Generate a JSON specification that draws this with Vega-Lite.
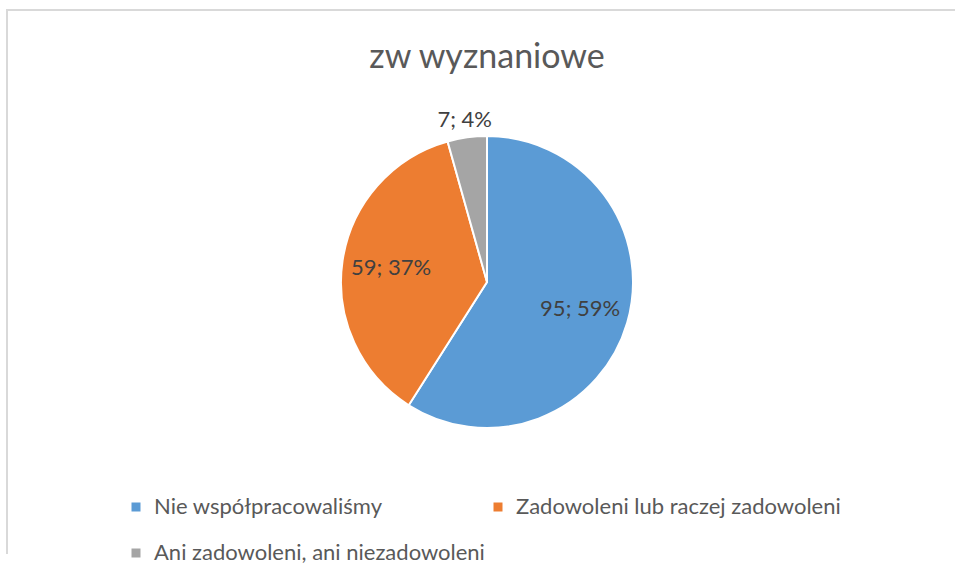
{
  "$schema": "https://vega.github.io/schema/vega-lite/v6.json",
  "width": 960,
  "height": 544,
  "autosize": {"type": "none"},
  "padding": {"left": 7, "top": 10, "right": -12, "bottom": 24},
  "background": "white",
  "config": {
    "font": "Lato",
    "view": {"stroke": "#D9D9D9", "strokeWidth": 2, "strokeDash": [960, 1504, 544]}
  },
  "view": {"stroke": "#D9D9D9", "strokeWidth": 2, "strokeDash": [960, 1504, 544], "fill": "white"},
  "title": {
    "text": "zw wyznaniowe",
    "fontSize": 34,
    "fontWeight": "normal",
    "color": "#595959",
    "anchor": "middle",
    "baseline": "alphabetic",
    "offset": -92
  },
  "data": {
    "values": [
      {"category": "Nie współpracowaliśmy", "value": 95, "label": "95; 59%", "order": 1},
      {"category": "Zadowoleni lub raczej zadowoleni", "value": 59, "label": "59; 37%", "order": 2},
      {"category": "Ani zadowoleni, ani niezadowoleni", "value": 7, "label": "7; 4%", "order": 3}
    ]
  },
  "encoding": {
    "theta": {"field": "value", "type": "quantitative", "stack": true},
    "order": {"field": "order", "type": "quantitative"}
  },
  "layer": [
    {
      "mark": {"type": "arc", "outerRadius": 146, "stroke": "white", "strokeWidth": 2},
      "encoding": {
        "color": {
          "field": "category",
          "type": "nominal",
          "sort": ["Nie współpracowaliśmy", "Zadowoleni lub raczej zadowoleni", "Ani zadowoleni, ani niezadowoleni"],
          "scale": {
            "domain": ["Nie współpracowaliśmy", "Zadowoleni lub raczej zadowoleni", "Ani zadowoleni, ani niezadowoleni"],
            "range": ["#5B9BD5", "#ED7D31", "#A5A5A5"]
          },
          "legend": {
            "title": null,
            "orient": "none",
            "direction": "horizontal",
            "legendX": 118,
            "legendY": 486,
            "columns": 2,
            "symbolType": "square",
            "symbolSize": 81,
            "symbolStrokeWidth": 0,
            "labelFontSize": 22,
            "labelColor": "#595959",
            "labelOffset": 7,
            "columnPadding": 2,
            "rowPadding": 24,
            "labelLimit": 0
          }
        }
      }
    },
    {
      "mark": {"type": "text", "radius": 97, "fontSize": 22, "color": "#404040"},
      "encoding": {
        "detail": {"field": "category", "type": "nominal"},
        "text": {
          "condition": {"test": "datum.category === 'Ani zadowoleni, ani niezadowoleni'", "value": ""},
          "field": "label"
        }
      }
    },
    {
      "mark": {"type": "text", "radius": 164, "fontSize": 22, "color": "#404040"},
      "encoding": {
        "detail": {"field": "category", "type": "nominal"},
        "text": {
          "condition": {"test": "datum.category !== 'Ani zadowoleni, ani niezadowoleni'", "value": ""},
          "field": "label"
        }
      }
    }
  ]
}
